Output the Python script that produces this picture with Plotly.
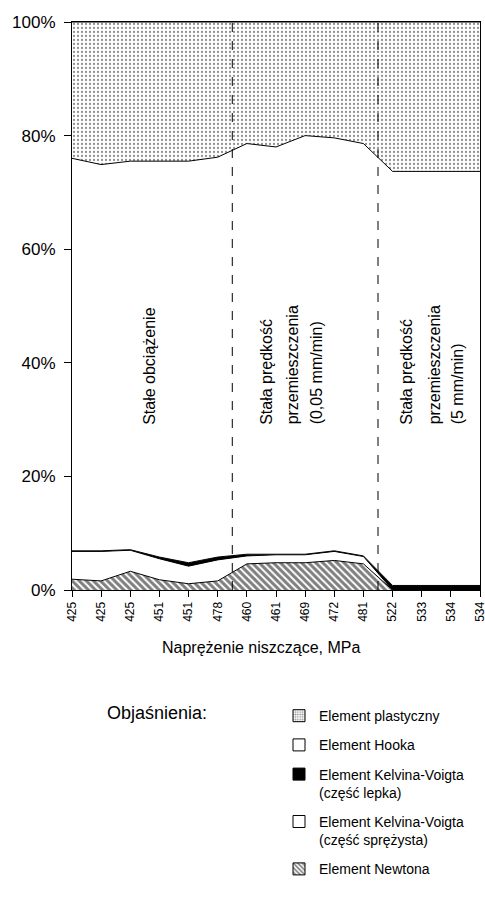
import plotly.graph_objects as go

# ---- data (percent shares, stacked bottom -> top) ----
categories = ["425", "425", "425", "451", "451", "478", "460", "461", "469",
              "472", "481", "522", "533", "534", "534"]
newton = [1.9, 1.6, 3.3, 1.8, 1.1, 1.6, 4.6, 4.8, 4.8, 5.2, 4.6, 0.0, 0.0, 0.0, 0.0]
kv_elastic = [4.9, 5.2, 3.7, 3.7, 3.1, 3.7, 1.4, 1.4, 1.4, 1.6, 1.3, 0.0, 0.0, 0.0, 0.0]
kv_viscous = [0.1, 0.1, 0.1, 0.3, 0.6, 0.5, 0.3, 0.1, 0.1, 0.1, 0.1, 0.8, 0.8, 0.8, 0.8]
hooke = [69.1, 68.0, 68.4, 69.7, 70.7, 70.4, 72.3, 71.7, 73.7, 72.7, 72.6, 72.9, 72.9, 72.9, 72.9]
plastic = [24.0, 25.1, 24.5, 24.5, 24.5, 23.8, 21.4, 22.0, 20.0, 20.4, 21.4, 26.3, 26.3, 26.3, 26.3]

y_ticks = [0, 20, 40, 60, 80, 100]
y_tick_labels = ["0%", "20%", "40%", "60%", "80%", "100%"]
regime_boundaries = [5.5, 10.5]

names = {
    "plastic": "Element plastyczny",
    "hooke": "Element Hooka",
    "kvv": "Element Kelvina-Voigta<br>(część lepka)",
    "kve": "Element Kelvina-Voigta<br>(część sprężysta)",
    "newton": "Element Newtona",
}

FONT = "Liberation Sans, Arial, sans-serif"

x = list(range(len(categories)))

dots = dict(shape=".", fgcolor="#222222", bgcolor="white", size=4, solidity=0.25)
hatch = dict(shape="\\", fgcolor="black", bgcolor="white", size=5, solidity=0.6)

fig = go.Figure()
series = [
    ("newton", newton, dict(fillcolor="white", fillpattern=hatch)),
    ("kve", kv_elastic, dict(fillcolor="white")),
    ("kvv", kv_viscous, dict(fillcolor="black")),
    ("hooke", hooke, dict(fillcolor="white")),
    ("plastic", plastic, dict(fillcolor="white", fillpattern=dots)),
]
for key, vals, style in series:
    fig.add_trace(go.Scatter(
        x=x, y=vals, mode="lines", stackgroup="one",
        line=dict(color="black", width=1, shape="linear"),
        name=names[key], showlegend=False, hoverinfo="skip", **style))

# legend entries (square swatches)
legend_styles = [
    ("plastic", dict(color="white", pattern=dict(shape=".", fgcolor="#222", bgcolor="white", size=3, solidity=0.4))),
    ("hooke", dict(color="white")),
    ("kvv", dict(color="black")),
    ("kve", dict(color="white")),
    ("newton", dict(color="white", pattern=dict(shape="\\", fgcolor="black", bgcolor="white", size=4, solidity=0.5))),
]
for key, mk in legend_styles:
    mk = dict(mk)
    mk["line"] = dict(color="black", width=1)
    fig.add_trace(go.Bar(x=[None], y=[None], name=names[key], marker=mk,
                         legendgroup=key, showlegend=True))

for bx in regime_boundaries:
    fig.add_shape(type="line", xref="x", yref="y", x0=bx, x1=bx, y0=0, y1=100,
                  line=dict(color="black", width=1, dash="dash"), layer="above")

# helpers: screen pixel -> paper fraction (plot area spans x 72..480, y 22.5..590)
def px_x(p):
    return (p - 72) / 408.0

def px_y(p):
    return (590 - p) / 567.5

regime_texts = [
    ("Stałe obciążenie", 150),
    ("Stała prędkość", 267), ("przemieszczenia", 292), ("(0,05 mm/min)", 316),
    ("Stała prędkość", 407), ("przemieszczenia", 434), ("(5 mm/min)", 457),
]
for txt, cx in regime_texts:
    fig.add_annotation(text=txt, xref="paper", yref="paper", x=px_x(cx), y=px_y(427),
                       xanchor="center", yanchor="bottom", textangle=-90, showarrow=False,
                       font=dict(family=FONT, size=16, color="black"))

fig.add_annotation(text="Naprężenie niszczące, MPa", xref="paper", yref="paper",
                   x=px_x(261), y=px_y(647), xanchor="center", yanchor="middle",
                   showarrow=False, font=dict(family=FONT, size=16, color="black"))
fig.add_annotation(text="Objaśnienia:", xref="paper", yref="paper",
                   x=px_x(105), y=px_y(713), xanchor="left", yanchor="middle",
                   showarrow=False, font=dict(family=FONT, size=18, color="black"))

fig.update_layout(
    width=485, height=898,
    margin=dict(l=72, r=5, t=22, b=308),
    paper_bgcolor="white", plot_bgcolor="white",
    font=dict(family=FONT, color="black"),
    showlegend=True,
    legend=dict(x=px_x(279), y=px_y(700), xanchor="left", yanchor="top",
                traceorder="grouped", tracegroupgap=8, valign="top",
                font=dict(family=FONT, size=14, color="black"),
                bgcolor="rgba(0,0,0,0)"),
    xaxis=dict(type="linear", range=[0, len(categories) - 1], tickmode="array",
               tickvals=x, ticktext=categories, tickangle=-90,
               ticks="outside", ticklen=6, tickcolor="black",
               showline=True, linecolor="black", linewidth=1, mirror=True,
               showgrid=False, zeroline=False, automargin=False,
               ticklabeloverflow="allow",
               tickfont=dict(family=FONT, size=12, color="black")),
    yaxis=dict(range=[0, 100], tickmode="array", tickvals=y_ticks, ticktext=y_tick_labels,
               ticks="outside", ticklen=7, tickcolor="black",
               showline=True, linecolor="black", linewidth=1, mirror=True,
               showgrid=False, zeroline=False, automargin=False,
               ticklabelstandoff=5,
               tickfont=dict(family=FONT, size=17, color="black")),
)

# remove the browser's default 8px body margin so the figure fills the window exactly
fig.write_html("out.html",
               config={"displayModeBar": False},
               post_script="document.body.style.margin='0';document.body.style.overflow='hidden';")
